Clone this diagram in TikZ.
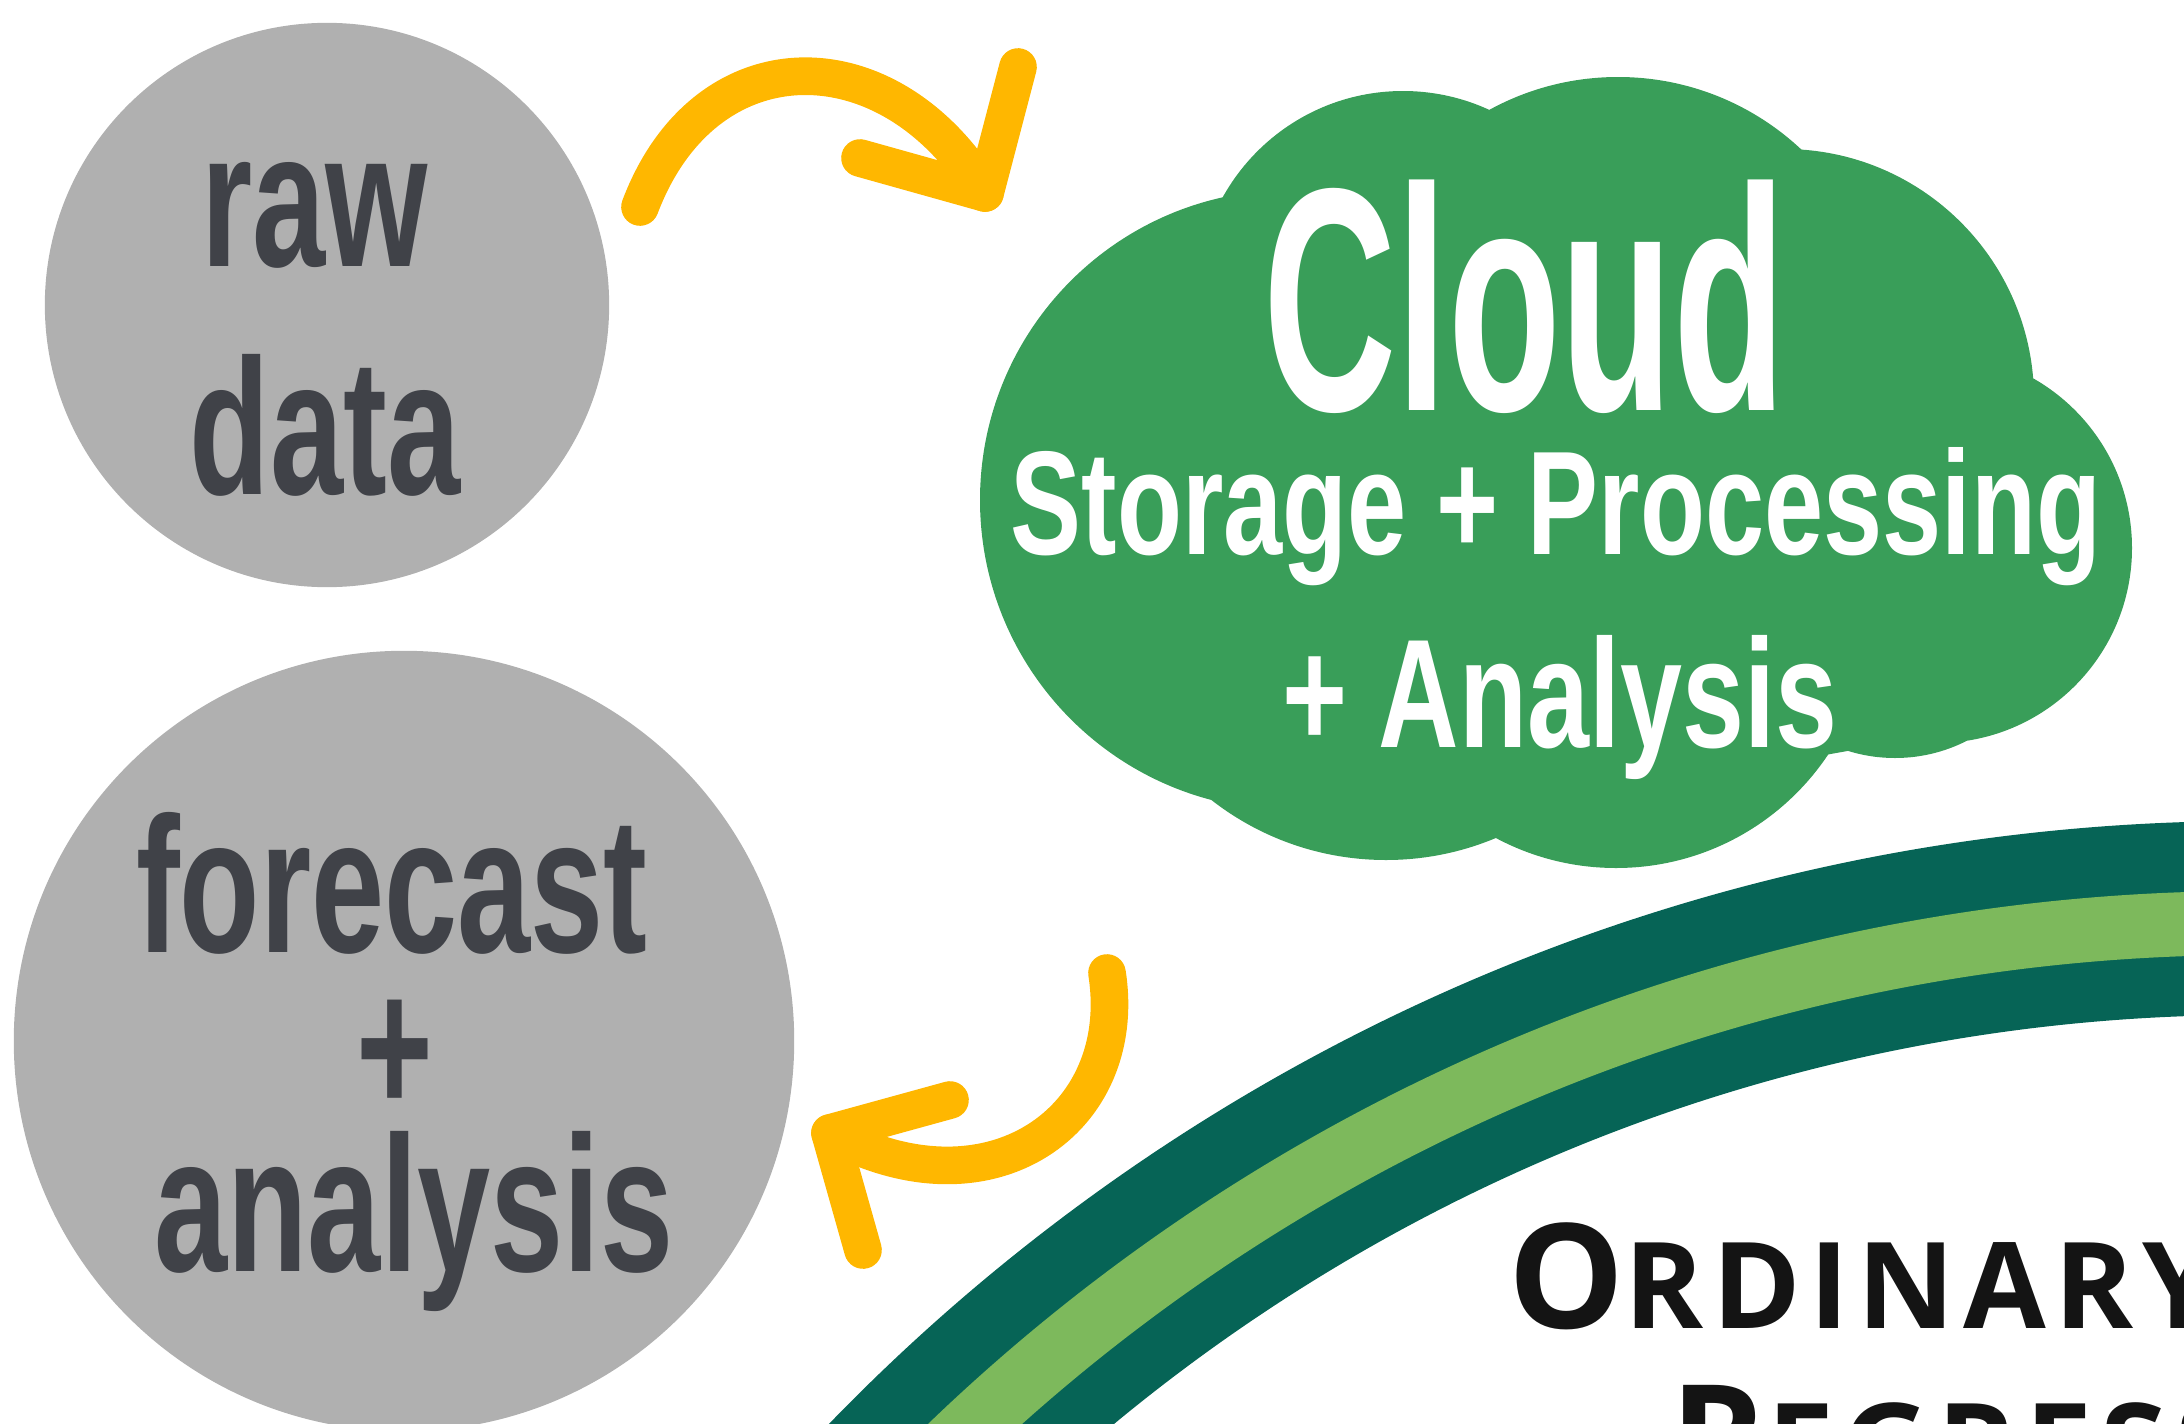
\documentclass[tikz,border=0pt]{standalone}
\usepackage{fontspec}
\usetikzlibrary{calc}
\newfontfamily\agencyfont{Liberation Sans}[FakeStretch=0.68]
\newfontfamily\cloudfont{Liberation Sans}[FakeStretch=0.58]
\newfontfamily\cloudsubfont{Liberation Sans}[FakeStretch=0.72]
\newfontfamily\titlefont{Open Sans}[LetterSpace=7]
\definecolor{bubblegray}{RGB}{176,176,176}
\definecolor{bubbleink}{RGB}{64,66,72}
\definecolor{arrowyellow}{RGB}{255,183,0}
\definecolor{cloudgreen}{RGB}{57,158,89}
\definecolor{archdark}{RGB}{6,100,86}
\definecolor{archlight}{RGB}{125,185,92}
\definecolor{titleink}{RGB}{20,20,20}
% big capital followed by smaller capitals
\newcommand{\capword}[2]{{\fontsize{41.5}{41.5}\selectfont #1}{\fontsize{34.1}{34.1}\selectfont #2}}

\begin{document}
\begin{tikzpicture}[x=0.01cm, y=-0.01cm, line cap=round, line join=round,
	bubble/.style={circle, fill=bubblegray, inner sep=0pt},
	bubbletext/.style={anchor=base, text=bubbleink, inner sep=0pt,
		font=\agencyfont\bfseries\fontsize{55}{55}\selectfont},
	cloudtext/.style={anchor=base, text=white, inner sep=0pt},
	turnarrow/.style={draw=arrowyellow, line width=10.7pt},
	titletext/.style={anchor=base west, text=titleink, inner sep=0pt,
		font=\titlefont\bfseries}]
	
	% ===============================
	% page frame (pixel units, y downwards)
	% ===============================
	\useasboundingbox (0,0) rectangle (2184,1424);
	\clip (0,0) rectangle (2184,1424);
	
	% ---- Bottom right: arch bands ----
	\coordinate (archc) at (2250,2797);
	\fill[archdark, even odd rule] (archc) circle[radius=1976] circle[radius=1782];
	\fill[archlight, even odd rule] (archc) circle[radius=1906] circle[radius=1842];
	
	% ---- Left: grey bubbles ----
	\node[bubble, minimum size=5.64cm] (raw) at (327,305) {};
	\node[bubbletext] (rawa) at (315,266) {raw};
	\node[bubbletext] (rawb) at (325,494) {data};
	
	\node[bubble, minimum size=7.8cm] (forecast) at (404,1041) {};
	\node[bubbletext] (fca) at (392,952) {forecast};
	\node[bubbletext] (fcb) at (395,1113) {+};
	\node[bubbletext] (fcc) at (414,1271) {analysis};
	
	% ---- Top right: cloud (core between the dents + one circle per lobe) ----
	\fill[cloudgreen] (1224,195) -- (1488,110) -- (1802,150) -- (2031,361)
	-- (1937,735) -- (1825,755) -- (1496,838) -- (1190,790) -- cycle;
	\fill[cloudgreen] (1290,500) circle[radius=310]   % left
	(1403,297) circle[radius=206]   % top left
	(1618,345) circle[radius=268]   % top
	(1784,399) circle[radius=250]   % top right
	(1937,548) circle[radius=195]   % right
	(1895,600) circle[radius=158]   % lower right
	(1616,613) circle[radius=255]   % bottom
	(1386,576) circle[radius=284];  % bottom left
	\node[cloudtext, font=\cloudfont\bfseries\fontsize{90.5}{90.5}\selectfont]
	(clouda) at (1525,410) {Cloud};
	\node[cloudtext, font=\cloudsubfont\bfseries\fontsize{42}{42}\selectfont]
	(cloudb) at (1556,554) {Storage + Processing};
	\node[cloudtext, font=\cloudsubfont\bfseries\fontsize{44}{44}\selectfont]
	(cloudc) at (1560,747) {+ Analysis};
	
	% ---- yellow turn arrows ----
	\coordinate (toptail) at (640,207);
	\coordinate (toptip) at (985,193);
	\coordinate (topbarbA) at (1018,67);
	\coordinate (topbarbB) at (860,158);
	\draw[turnarrow] (toptail) .. controls (705,35) and (890,35) .. (toptip);
	\draw[turnarrow] (topbarbA) -- (toptip) -- (topbarbB);
	
	\coordinate (lowtail) at (1107,973);
	\coordinate (lowtip) at (830,1133);
	\coordinate (lowbarbA) at (950,1100);
	\coordinate (lowbarbB) at (863,1250);
	\draw[turnarrow] (lowtail) .. controls (1130,1120) and (990,1220) .. (lowtip);
	\draw[turnarrow] (lowbarbA) -- (lowtip) -- (lowbarbB);
	
	% ---- title (runs off the page) ----
	\node[titletext] (ordinary) at (1508,1328) {\capword{O}{RDINARY}};
	\node[titletext] (regression) at (1670,1489) {\capword{R}{EGRESSION}};
	
\end{tikzpicture}
\end{document}
